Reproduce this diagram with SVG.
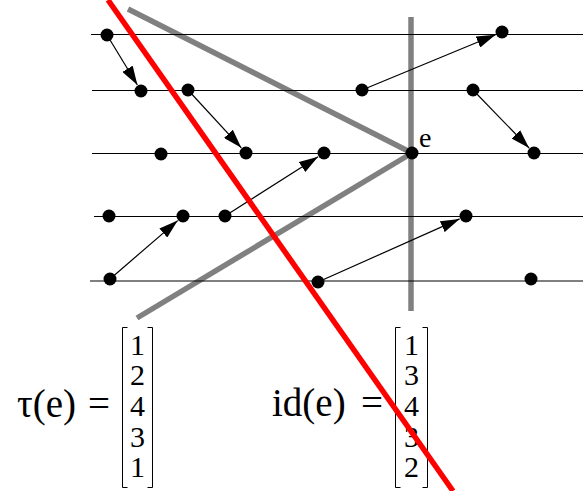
<svg xmlns="http://www.w3.org/2000/svg" width="585" height="491" viewBox="0 0 585 491">
<style>
.gl{stroke:#808080;stroke-width:5.5;fill:none}
.hl{stroke:#000;stroke-width:1;fill:none}
.ar{stroke:#000;stroke-width:1.2;fill:none;marker-end:url(#ah)}
.dot{fill:#000}
.t{font-family:"Liberation Serif","Times New Roman",serif;fill:#000}
.br{stroke:#000;stroke-width:1;fill:none}
</style>
<defs>
<marker id="ah" markerUnits="userSpaceOnUse" markerWidth="19" markerHeight="12" refX="19" refY="6" orient="auto">
<path d="M0,0 L19,6 L0,12 z" fill="#000"/>
</marker>
</defs>
<rect width="585" height="491" fill="#fff"/>
<g id="cuts">
<line class="gl" x1="128" y1="9" x2="412" y2="153"/>
<line class="gl" x1="137" y1="318" x2="412" y2="153"/>
<line class="gl" x1="411" y1="17" x2="411" y2="311"/>
</g>
<g id="timelines">
<line class="hl" x1="91" y1="34.5" x2="583" y2="34.5"/>
<line class="hl" x1="92" y1="90.5" x2="583" y2="90.5"/>
<line class="hl" x1="92" y1="153.5" x2="583" y2="153.5"/>
<line class="hl" x1="94" y1="216.5" x2="583" y2="216.5"/>
<line class="hl" x1="90" y1="281" x2="583" y2="281"/>
</g>
<g id="connectors">
<line class="ar" x1="107" y1="35" x2="137.4" y2="85"/>
<line class="ar" x1="188" y1="90" x2="241.3" y2="147.8"/>
<line class="ar" x1="110" y1="279" x2="177.7" y2="220.6"/>
<line class="ar" x1="225" y1="216" x2="318.1" y2="156.8"/>
<line class="ar" x1="318" y1="282" x2="459.6" y2="218.9"/>
<line class="ar" x1="362" y1="90" x2="495.5" y2="34.7"/>
<line class="ar" x1="473" y1="90" x2="529.1" y2="148"/>
</g>
<g id="n1"><circle class="dot" cx="107" cy="35" r="6.5"/></g>
<g id="n2"><circle class="dot" cx="502" cy="32" r="6.5"/></g>
<g id="n3"><circle class="dot" cx="141" cy="91" r="6.5"/></g>
<g id="n4"><circle class="dot" cx="188" cy="90" r="6.5"/></g>
<g id="n5"><circle class="dot" cx="362" cy="90" r="6.5"/></g>
<g id="n6"><circle class="dot" cx="473" cy="90" r="6.5"/></g>
<g id="n7"><circle class="dot" cx="161" cy="154" r="6.5"/></g>
<g id="n8"><circle class="dot" cx="246" cy="153" r="6.5"/></g>
<g id="n9"><circle class="dot" cx="324" cy="153" r="6.5"/></g>
<g id="e"><circle class="dot" cx="412" cy="153" r="6.5"/><text class="t" x="419" y="147" font-size="28">e</text></g>
<g id="n11"><circle class="dot" cx="534" cy="153" r="6.5"/></g>
<g id="n12"><circle class="dot" cx="109" cy="216" r="6.5"/></g>
<g id="n13"><circle class="dot" cx="183" cy="216" r="6.5"/></g>
<g id="n14"><circle class="dot" cx="225" cy="216" r="6.5"/></g>
<g id="n15"><circle class="dot" cx="466" cy="216" r="6.5"/></g>
<g id="n16"><circle class="dot" cx="110" cy="279" r="6.5"/></g>
<g id="n17"><circle class="dot" cx="318" cy="282" r="6.5"/></g>
<g id="n18"><circle class="dot" cx="531" cy="279" r="6.5"/></g>
<g id="tau">
<text class="t" y="417" font-size="39"><tspan x="17">τ(e)</tspan> <tspan x="88">=</tspan></text>
<path class="br" d="M127.5,327.5 H122.5 V487.5 H127.5 M147.5,327.5 H152.5 V487.5 H147.5"/>
<g class="t" font-size="30" text-anchor="middle">
<text x="137.5" y="355">1</text>
<text x="137.5" y="385">2</text>
<text x="137.5" y="416">4</text>
<text x="137.5" y="447">3</text>
<text x="137.5" y="477">1</text>
</g>
</g>
<g id="ide">
<text class="t" y="416" font-size="39"><tspan x="272">id(e)</tspan> <tspan x="361">=</tspan></text>
<path class="br" d="M400.5,327.5 H395.5 V487.5 H400.5 M422.5,327.5 H427.5 V487.5 H422.5"/>
<g class="t" font-size="30" text-anchor="middle">
<text x="411.5" y="355">1</text>
<text x="411.5" y="385">3</text>
<text x="411.5" y="416">4</text>
<text x="411.5" y="447">3</text>
<text x="411.5" y="477">2</text>
</g>
</g>
<g id="cutline">
<line x1="108" y1="0" x2="453" y2="491" stroke="#f00" stroke-width="5.5"/>
</g>
</svg>
